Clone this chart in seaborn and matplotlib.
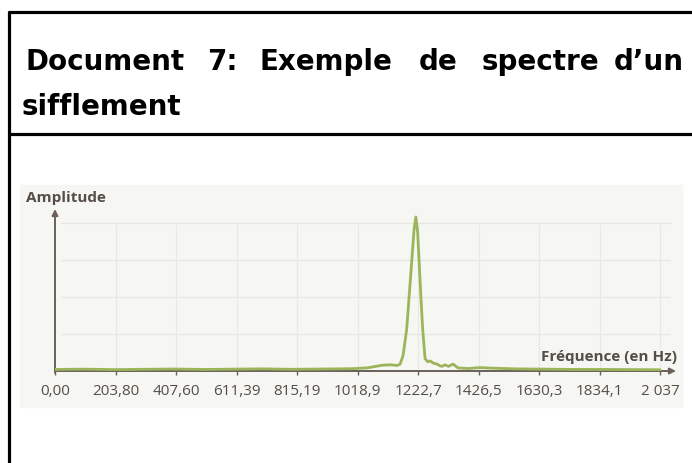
import numpy as np
import pandas as pd
import matplotlib
matplotlib.use('Agg')
import matplotlib.pyplot as plt
from matplotlib.lines import Line2D
from matplotlib.patches import Rectangle
import seaborn as sns

# %% Données lues sur le spectre (amplitude relative, pic = 100)
freq = [0, 100, 200, 300, 400, 500, 600, 700, 800, 900, 1000, 1050, 1104,
        1130, 1152, 1162, 1172, 1184, 1193, 1201, 1209, 1215, 1221, 1226,
        1232, 1238, 1246, 1255, 1263, 1275, 1286, 1295, 1303, 1313, 1325,
        1340, 1357, 1390, 1431, 1480, 1550, 1650, 1750, 1850, 1950, 2037]
amp = [1.0, 1.2, 0.9, 1.1, 1.3, 1.0, 1.2, 1.4, 1.1, 1.3, 1.5, 2.0, 3.8,
       4.0, 3.6, 4.5, 10, 27, 50, 71, 92, 100, 90, 71,
       48, 27, 8, 6, 6.5, 5, 4.5, 3.5, 3.0, 4.0, 3.0,
       4.5, 2.0, 1.6, 2.2, 1.8, 1.4, 1.2, 1.0, 1.0, 0.9, 0.8]

tick_pos = [0, 203.80, 407.60, 611.39, 815.19, 1018.9, 1222.7, 1426.5,
            1630.3, 1834.1, 2037]
tick_labels = ['0,00', '203,80', '407,60', '611,39', '815,19', '1018,9',
               '1222,7', '1426,5', '1630,3', '1834,1', '2 037']
grid_y = [24, 48, 72, 96]

title_words = ['Document', '7:', 'Exemple', 'de', 'spectre', 'd’un']
title_line2 = 'sifflement'

df = pd.DataFrame({'Fréquence': freq, 'Amplitude': amp})

# %%
sns.set_theme(style='white')
plt.rcParams['font.family'] = ['DejaVu Sans']

W, H = 692, 464
fig = plt.figure(figsize=(W / 100, H / 100), dpi=100)

# cadre du document
frame = dict(color='black', lw=2.3, solid_capstyle='butt')
fig.add_artist(Line2D([8 / W, 1], [1 - 13 / H, 1 - 13 / H], **frame))
fig.add_artist(Line2D([9 / W, 9 / W], [1 - 12 / H, 0], **frame))
fig.add_artist(Line2D([8 / W, 1], [1 - 135 / H, 1 - 135 / H], **frame))

# titre justifié (chaque mot centré sur sa place)
word_cx = [105, 222, 326, 438, 540, 649]
for w, x in zip(title_words, word_cx):
    fig.text(x / W, 1 - 70 / H, w, fontsize=20, fontweight='bold',
             color='black', va='baseline', ha='center')
fig.text(22 / W, 1 - 115 / H, title_line2, fontsize=20, fontweight='bold',
         color='black', va='baseline', ha='left')

# fond du scan
fig.add_artist(Rectangle((20 / W, 1 - 408 / H), 662 / W, 222 / H,
                         transform=fig.transFigure, color='#f6f6f3', zorder=0))

# %% Axes du spectre
x0, x1 = 55, 676
y0, y1 = 372, 210
ax = fig.add_axes([x0 / W, 1 - y0 / H, (x1 - x0) / W, (y0 - y1) / H])
ax.patch.set_alpha(0)
xmax = 2037 * (x1 - x0) / (660 - x0)
ymax = 100 * (y0 - y1) / (y0 - 218)
ax.set_xlim(0, xmax)
ax.set_ylim(0, ymax)

for s in ax.spines.values():
    s.set_visible(False)

axis_col = '#6b605a'
text_col = '#554d49'
ax.annotate('', xy=(0, 1), xytext=(0, -0.01), xycoords='axes fraction',
            arrowprops=dict(arrowstyle='-|>', color=axis_col, lw=1.4,
                            mutation_scale=9, shrinkA=0, shrinkB=0))
ax.annotate('', xy=(1, 0), xytext=(0, 0), xycoords='axes fraction',
            arrowprops=dict(arrowstyle='-|>', color=axis_col, lw=1.4,
                            mutation_scale=9, shrinkA=0, shrinkB=0))

# grille pâle
for g in grid_y:
    ax.axhline(g, xmin=0.01, xmax=0.99, color='#e6e6e2', lw=0.9, zorder=0)
for t in tick_pos[1:]:
    ax.axvline(t, ymin=0, ymax=0.9, color='#e8e8e4', lw=0.9, zorder=0)

sns.lineplot(data=df, x='Fréquence', y='Amplitude', ax=ax, color='#9cb55a',
             lw=2.0, zorder=3)

ax.set_xticks(tick_pos)
ax.set_xticklabels(tick_labels, fontsize=11, color=text_col,
                   family=['Open Sans', 'DejaVu Sans'])
ax.set_yticks([])
ax.tick_params(axis='x', bottom=True, length=3, width=1, color=axis_col,
               pad=6, direction='out')
ax.set_xlabel('')
ax.set_ylabel('')

fig.text(26 / W, 1 - 198 / H, 'Amplitude', fontsize=11, fontweight='bold',
         color=text_col, va='center', ha='left',
         family=['Open Sans', 'DejaVu Sans'])
fig.text(677 / W, 1 - 357 / H, 'Fréquence (en Hz)', fontsize=11,
         fontweight='bold', color=text_col, va='center', ha='right',
         family=['Open Sans', 'DejaVu Sans'])

fig.savefig('out.png', dpi=100)
